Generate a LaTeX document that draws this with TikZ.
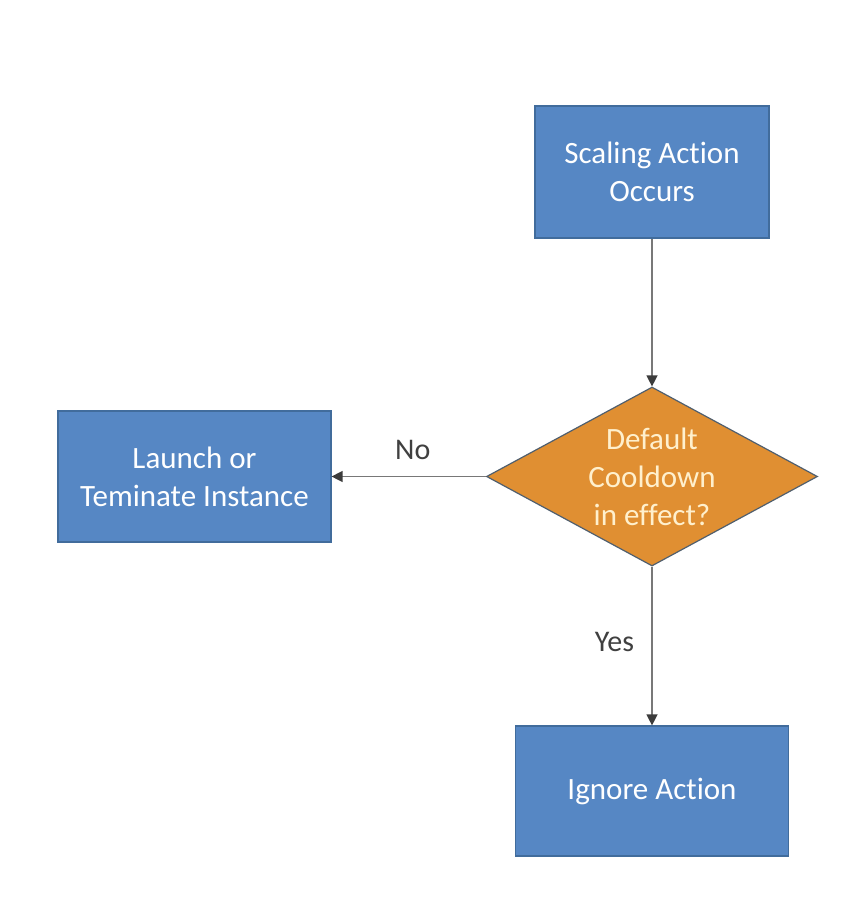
\documentclass[tikz,border=0pt]{standalone}
\usepackage{fontspec}
\setmainfont{Carlito}[Ligatures=CommonOff]
\usetikzlibrary{shapes.geometric,arrows.meta}
\definecolor{boxblue}{RGB}{86,135,196}
\definecolor{boxedge}{RGB}{65,108,156}
\definecolor{diaorange}{RGB}{224,143,50}
\definecolor{diaedge}{RGB}{80,95,110}
\definecolor{diatext}{RGB}{255,240,205}
\definecolor{linegray}{RGB}{120,120,120}
\definecolor{tipgray}{RGB}{60,60,60}
\definecolor{labgray}{RGB}{64,64,64}
\tikzset{
  procbox/.style={draw=boxedge, line width=1.2pt, fill=boxblue, text=white,
    minimum width=#1, inner sep=0pt, align=center,
    font=\fontsize{31}{38}\selectfont},
  procbox/.default=273pt,
  decision/.style={diamond, draw=diaedge, line width=1.2pt, fill=diaorange,
    text=diatext, inner sep=0pt, shape aspect=1.85, minimum width=331pt,
    minimum height=179pt, align=center, font=\fontsize{31}{38}\selectfont},
  flow/.style={draw=linegray, line width=1.3pt,
    -{Triangle[length=11pt,width=11pt,color=tipgray]}},
  edgelab/.style={text=labgray, font=\fontsize{30}{36}\selectfont}
}
\begin{document}
\begin{tikzpicture}[x=1pt,y=-1pt]
\useasboundingbox[fill=white] (0,0) rectangle (846,902);
\node[procbox=234pt, minimum height=132pt] (start) at (652,172) {Scaling Action\\Occurs};
\node[decision] (dec) at (652,476.5) {Default\\Cooldown\\in effect?};
\node[procbox, minimum height=131pt] (launch) at (194.5,476.5) {Launch or\\Teminate Instance};
\node[procbox, minimum height=130pt] (ignore) at (652,791) {Ignore Action};
\draw[flow] (start) -- (dec);
\draw[flow] (dec.west) -- node[edgelab, midway, above=13pt, xshift=4pt] {No} (launch.east);
\draw[flow] (dec.south) -- node[edgelab, midway, left=14pt, yshift=4pt] {Yes} (ignore.north);
\end{tikzpicture}
\end{document}
